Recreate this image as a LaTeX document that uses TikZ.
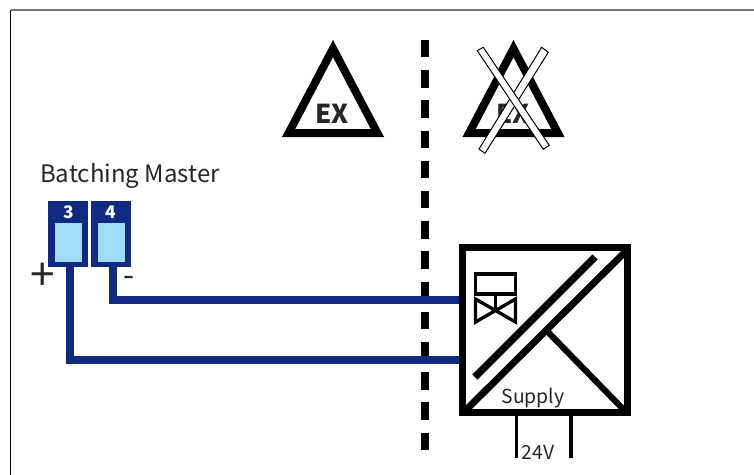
\documentclass[tikz,border=0pt]{standalone}
\usepackage{fontspec}
\setmainfont{Noto Sans CJK SC}
\definecolor{navy}{HTML}{0F2A80}
\definecolor{lightbl}{HTML}{9FDCF7}
\tikzset{
  wire/.style={navy,line width=6pt,line cap=butt,miter limit=10},
  terminal/.style={rectangle,fill=navy,inner sep=0pt,minimum width=30pt,minimum height=49.5pt},
  window/.style={rectangle,fill=lightbl,inner sep=0pt,minimum width=20.25pt,minimum height=29.25pt},
  exsign/.style={line width=6pt,line join=miter,miter limit=10},
  crossbar/.style={fill=white,draw=black,line width=.75pt},
  lbl/.style={inner sep=0pt,text=black!85},
  exlbl/.style={lbl,font=\bfseries\fontsize{19.5}{19.5}\selectfont},
  numlbl/.style={inner sep=0pt,text=white,font=\bfseries\fontsize{13}{13}\selectfont}
}
\begin{document}
\begin{tikzpicture}[x=0.75pt,y=-0.75pt]
   \useasboundingbox (0,0) rectangle (754,475);
   % frame
   \coordinate (frameTL) at (10.5,10);
   \coordinate (frameTR) at (754,10);
   \coordinate (frameBL) at (10.5,475);
   \draw[black!55,line width=1.3pt] (frameTL) -- (frameTR);
   \draw[black,line width=.8pt] (frameTL) -- (frameBL);
   % border of the zone
   \coordinate (zoneT) at (425,40);
   \coordinate (zoneB) at (425,450);
   \draw[line width=6pt,dash pattern=on 13.1pt off 9.55pt] (zoneT) -- (zoneB);
   % signs
   \draw[exsign] (333,48.6) -- (377.4,133) -- (288.6,133) -- cycle;
   \node[exlbl] (exA) at (332,113.5) {EX};
   \draw[exsign] (513.5,48.6) -- (557.9,133) -- (469.1,133) -- cycle;
   \node[exlbl] (exB) at (513,113.5) {EX};
   \draw[crossbar] (541.7,47.3) -- (548.3,52.3) -- (485,153.3) -- (479,149) -- cycle;
   \draw[crossbar] (477.3,50.7) -- (483.3,47.3) -- (549.3,145.3) -- (543.3,149.3) -- cycle;
   % terminals
   \node[lbl,font=\fontsize{18}{18}\selectfont] (master) at (130,176) {Batching Master};
   \node[terminal] (term3) at (68,234) {};
   \node[terminal] (term4) at (111,234) {};
   \node[window] (win3) at (68.5,242.5) {};
   \node[window] (win4) at (111.5,242.5) {};
   \node[numlbl] (num3) at (68.5,212) {3};
   \node[numlbl] (num4) at (110.5,212) {4};
   \node[lbl,font=\fontsize{33}{33}\selectfont] (plus) at (42.5,276.5) {+};
   \node[lbl,font=\fontsize{24}{24}\selectfont] (minus) at (129.5,281) {-};
   % converter
   \node[rectangle,draw=black,line width=5.25pt,inner sep=0pt,minimum width=124pt,minimum height=124pt,outer sep=0pt] (conv) at (545.3,330) {};
   \coordinate (in3) at (459,360.3);
   \coordinate (in4) at (459,300.3);
   \coordinate (out3) at (70.3,267);
   \coordinate (out4) at (113.3,267);
   \draw[wire] (out3) |- (in3);
   \draw[wire] (out4) |- (in4);
   \draw[line width=5.2pt] (466,410) -- (627,250);
   \draw[line width=5.4pt] (475,377) -- (595,257);
   \draw[line width=4.6pt] (546,330) -- (624,410);
   % valve
   \draw[line width=2.5pt] (475.7,274) rectangle (515.7,294);
   \draw[line width=2.5pt] (495.5,295) -- (495.5,311);
   \draw[line width=2.5pt] (475.5,299) -- (475.5,322) -- (515.5,299) -- (515.5,322) -- cycle;
   % supply
   \node[lbl,font=\fontsize{14.5}{14.5}\selectfont] (supply) at (533,398.5) {Supply};
   \coordinate (sup1) at (516.7,416);
   \coordinate (sup2) at (571,416);
   \coordinate (sup1end) at (516.7,458);
   \coordinate (sup2end) at (571,458);
   \draw[line width=2.6pt] (sup1) -- (sup1end);
   \draw[line width=2.6pt] (sup2) -- (sup2end);
   \node[lbl,font=\fontsize{14.5}{14.5}\selectfont] (volt) at (538,452) {24V};
\end{tikzpicture}
\end{document}
